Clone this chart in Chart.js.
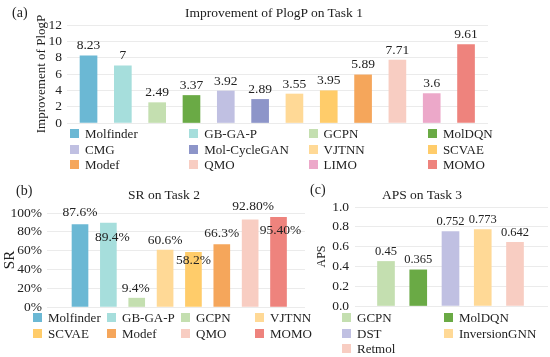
<!DOCTYPE html>
<html>
<head>
<meta charset="utf-8">
<script src="https://cdn.jsdelivr.net/npm/chart.js@4.4.1/dist/chart.umd.min.js"></script>
<style>
  body { margin: 0; background: #fff; }
  #wrap { position: relative; width: 550px; height: 357px; overflow: hidden;
          font-family: "Liberation Serif", "Times New Roman", serif; color: #222; }
  canvas { position: absolute; }
  .tag { position: absolute; font-size: 14px; line-height: 16px; }
  .ttl { position: absolute; width: 300px; text-align: center; font-size: 13.5px; line-height: 16px; }
  .legend { position: absolute; display: grid; font-size: 13px; line-height: 15.5px; }
  .legend div { white-space: nowrap; display: flex; align-items: center; }
  .legend i { width: 9px; height: 9px; margin-right: 6px; flex: none; }
</style>
</head>
<body>
<div id="wrap">
  <canvas id="chartA" width="550" height="180" style="left:0;top:0"></canvas>
  <canvas id="chartB" width="310" height="177" style="left:0;top:180px"></canvas>
  <canvas id="chartC" width="252" height="177" style="left:296px;top:180px"></canvas>
  <div class="tag" style="left:12px;top:5px">(a)</div>
  <div class="tag" style="left:16px;top:183px">(b)</div>
  <div class="tag" style="left:310px;top:182px">(c)</div>
  <div class="ttl" style="left:124px;top:5px">Improvement of PlogP on Task 1</div>
  <div class="ttl" style="left:14px;top:187px">SR on Task 2</div>
  <div class="ttl" style="left:272px;top:187px">APS on Task 3</div>
  <div class="legend" id="legendA" style="left:70px;top:126px;grid-template-columns:repeat(4,119.3px)"></div>
  <div class="legend" id="legendB" style="left:33px;top:310px;grid-template-columns:repeat(4,74px)"></div>
  <div class="legend" id="legendC" style="left:342px;top:310px;grid-template-columns:repeat(2,102px)"></div>
</div>
<script>
// Task 1: improvement of PlogP
const taskOneMethods = ["Molfinder", "GB-GA-P", "GCPN", "MolDQN", "CMG", "Mol-CycleGAN",
                        "VJTNN", "SCVAE", "Modef", "QMO", "LIMO", "MOMO"];
const taskOneValues = [8.23, 7, 2.49, 3.37, 3.92, 2.89, 3.55, 3.95, 5.89, 7.71, 3.6, 9.61];
const taskOneTicks = ["0", "2", "4", "6", "8", "10", "12"];

// Task 2: SR (%)
const taskTwoMethods = ["Molfinder", "GB-GA-P", "GCPN", "VJTNN", "SCVAE", "Modef", "QMO", "MOMO"];
const taskTwoValues = [87.6, 89.4, 9.4, 60.6, 58.2, 66.3, 92.8, 95.4];
const taskTwoDecimals = [1, 1, 1, 1, 1, 1, 2, 2];
const taskTwoTicks = ["0%", "20%", "40%", "60%", "80%", "100%"];

// Task 3: APS
const taskThreeMethods = ["GCPN", "MolDQN", "DST", "InversionGNN", "Retmol"];
const taskThreeValues = [0.45, 0.365, 0.752, 0.773, 0.642];
const taskThreeTicks = ["0.0", "0.2", "0.4", "0.6", "0.8", "1.0"];

const methodColors = {
  "Molfinder": "#6bb8d4", "GB-GA-P": "#a6dedc", "GCPN": "#c4dfb0", "MolDQN": "#6aaa45",
  "CMG": "#c0c0e2", "Mol-CycleGAN": "#8d95c9", "VJTNN": "#ffd996", "SCVAE": "#ffcc6a",
  "Modef": "#f5a65b", "QMO": "#f8cdc2", "LIMO": "#eca8c9", "MOMO": "#ee837d",
  "DST": "#c0c0e2", "InversionGNN": "#ffd996", "Retmol": "#f8cdc2"
};

const FONT = "'Liberation Serif', 'Times New Roman', serif";
const TEXT = "#222";
const GRID = "#ebebeb";

function valueLabels(format, size, dx, dy) {
  return {
    id: "valueLabels",
    afterDatasetsDraw(chart) {
      const ctx = chart.ctx;
      const ds = chart.data.datasets[0];
      ctx.save();
      ctx.font = size + "px " + FONT;
      ctx.fillStyle = TEXT;
      ctx.textAlign = "center";
      ctx.textBaseline = "middle";
      chart.getDatasetMeta(0).data.forEach((bar, i) => {
        const ox = dx ? dx[i] : 0;
        const oy = dy ? dy[i] : -10;
        ctx.fillText(format(ds.data[i].y, i), bar.x + ox, bar.y + oy);
      });
      ctx.restore();
    }
  };
}

function barChart(id, c) {
  return new Chart(document.getElementById(id), {
    type: "bar",
    data: {
      datasets: [{
        data: c.values.map((v, i) => ({ x: i, y: v })),
        backgroundColor: c.methods.map(m => methodColors[m]),
        barThickness: c.barWidth
      }]
    },
    options: {
      responsive: false,
      animation: false,
      layout: { padding: c.padding },
      plugins: {
        legend: { display: false },
        tooltip: { enabled: false },
        title: { display: false }
      },
      scales: {
        x: { type: "linear", min: c.xMin, max: c.xMax, offset: false, display: false },
        y: {
          min: c.yMin, max: c.yMax,
          ticks: {
            stepSize: c.step, color: TEXT, padding: c.tickPad, autoSkip: false,
            font: { family: FONT, size: 13.5 },
            callback: (v, i) => c.ticks[i]
          },
          grid: { color: GRID, drawTicks: false },
          border: { display: false },
          title: {
            display: true, text: c.axisTitle, color: TEXT,
            font: { family: FONT, size: c.axisSize },
            padding: { top: c.axisPad, bottom: 0 }
          },
          afterFit: s => { s.width = c.axisWidth; }
        }
      }
    },
    plugins: [valueLabels(c.format, c.labelSize, c.dx, c.dy)]
  });
}

function buildLegend(id, methods) {
  const box = document.getElementById(id);
  methods.forEach(m => {
    const item = document.createElement("div");
    const sw = document.createElement("i");
    sw.style.background = methodColors[m];
    item.appendChild(sw);
    item.appendChild(document.createTextNode(m));
    box.appendChild(item);
  });
}

barChart("chartA", {
  methods: taskOneMethods, values: taskOneValues, ticks: taskOneTicks,
  axisTitle: "Improvement of PlogP",
  yMin: 0, yMax: 12, step: 2, xMin: -0.627, xMax: 11.64, barWidth: 17,
  padding: { top: 25, left: 0, right: 62, bottom: 57 },
  axisWidth: 67, tickPad: 5, axisSize: 13, axisPad: 34, labelSize: 13.5,
  format: v => String(v)
});

barChart("chartB", {
  methods: taskTwoMethods, values: taskTwoValues, ticks: taskTwoTicks,
  axisTitle: "SR",
  yMin: 0, yMax: 100, step: 20, xMin: -1.164, xMax: 7.934, barWidth: 16,
  padding: { top: 33, left: 0, right: 5, bottom: 50 },
  axisWidth: 47, tickPad: 5, axisSize: 15, axisPad: 1, labelSize: 13.5,
  format: (v, i) => v.toFixed(taskTwoDecimals[i]) + "%",
  dx: [0, 4, -1, 0, 0, 0, 3, 2],
  dy: [-12, 14, -10, -10, 8, -11, -13, 13]
});

barChart("chartC", {
  methods: taskThreeMethods, values: taskThreeValues, ticks: taskThreeTicks,
  axisTitle: "APS",
  yMin: 0, yMax: 1, step: 0.2, xMin: -0.961, xMax: 5.023, barWidth: 17,
  padding: { top: 27, left: 0, right: 0, bottom: 51 },
  axisWidth: 59, tickPad: 6, axisSize: 12, axisPad: 19, labelSize: 12.5,
  format: v => String(v)
});

buildLegend("legendA", taskOneMethods);
buildLegend("legendB", taskTwoMethods);
buildLegend("legendC", taskThreeMethods);
</script>
</body>
</html>
